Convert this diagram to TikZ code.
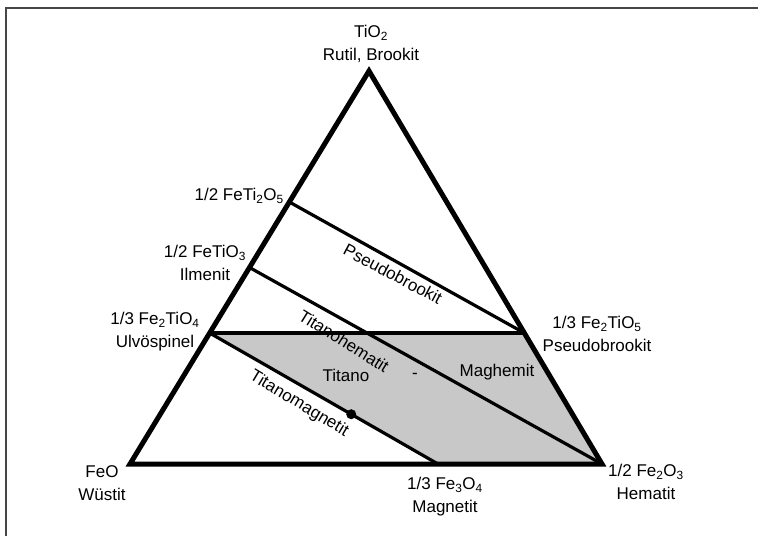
\documentclass[tikz,border=0pt]{standalone}
\usepackage{fontspec}
\setmainfont{Liberation Sans}
\usetikzlibrary{calc}
\definecolor{fieldgray}{RGB}{200,200,200}
\definecolor{framegray}{RGB}{70,70,70}
\tikzset{
	phase/.style={font=\fontsize{17}{23}\selectfont, align=center, inner sep=0pt},
	edge/.style={line width=5pt, line join=miter},
	tieline/.style={line width=3.2pt},
}

\begin{document}
\begin{tikzpicture}[x=1pt,y=-1pt]
		\useasboundingbox (0,0) rectangle (758,536);
		% frame
		\draw[framegray, line width=1.5pt] (6,536) -- (6,8) -- (758,8);
		% corners of the triangle
		\coordinate (tio) at (369,71);
		\coordinate (feo) at (130,464);
		\coordinate (hem) at (602,464);
		% points on the edges
		\coordinate (fti) at ($(feo)!2/3!(tio)$);
		\coordinate (ilm) at ($(feo)!1/2!(tio)$);
		\coordinate (ulv) at ($(feo)!1/3!(tio)$);
		\coordinate (pbr) at ($(hem)!1/3!(tio)$);
		\coordinate (mag) at (438,464);
		% grey field
		\fill[fieldgray] (ulv) -- (pbr) -- (hem) -- (mag) -- cycle;
		% tie lines
		\draw[tieline] (fti) -- (pbr);
		\draw[tieline] (ilm) -- (hem);
		\draw[tieline] (ulv) -- (pbr);
		\draw[tieline] (ulv) -- (mag);
		% sample point
		\fill ($(ulv)!0.62!(mag)$) circle (5pt);
		% edges
		\draw[edge] (tio) -- (feo) -- (hem) -- cycle;
		% labels at the corners and edges
		\node[phase] (tio-l) at (371,44) {TiO\textsubscript{2}\\Rutil, Brookit};
		\node[phase, anchor=east] (fti-l) at (284,196) {1/2 FeTi\textsubscript{2}O\textsubscript{5}};
		\node[phase] (ilm-l) at (205,263) {1/2 FeTiO\textsubscript{3}\\Ilmenit};
		\node[phase] (ulv-l) at (155,332) {1/3 Fe\textsubscript{2}TiO\textsubscript{4}\\Ulvöspinel};
		\node[phase] (pbr-l) at (597,334) {1/3 Fe\textsubscript{2}TiO\textsubscript{5}\\Pseudobrookit};
		\node[phase] (feo-l) at (102,483) {FeO\\Wüstit};
		\node[phase] (mag-l) at (445,497) {1/3 Fe\textsubscript{3}O\textsubscript{4}\\Magnetit};
		\node[phase] (hem-l) at (646,482) {1/2 Fe\textsubscript{2}O\textsubscript{3}\\Hematit};
		% labels in the fields
		\node[phase, rotate=-28] (pbr-f) at (393,274) {Pseudobrookit};
		\node[phase, rotate=-32] (thm-f) at (344,341) {Titanohematit};
		\node[phase, rotate=-31] (tmg-f) at (299,404) {Titanomagnetit};
		\node[phase] (tit-f) at (346,375) {Titano};
		\node[phase] (dash-f) at (415,376) {-};
		\node[phase] (mgh-f) at (497,372) {Maghemit};
	\end{tikzpicture}
\end{document}
